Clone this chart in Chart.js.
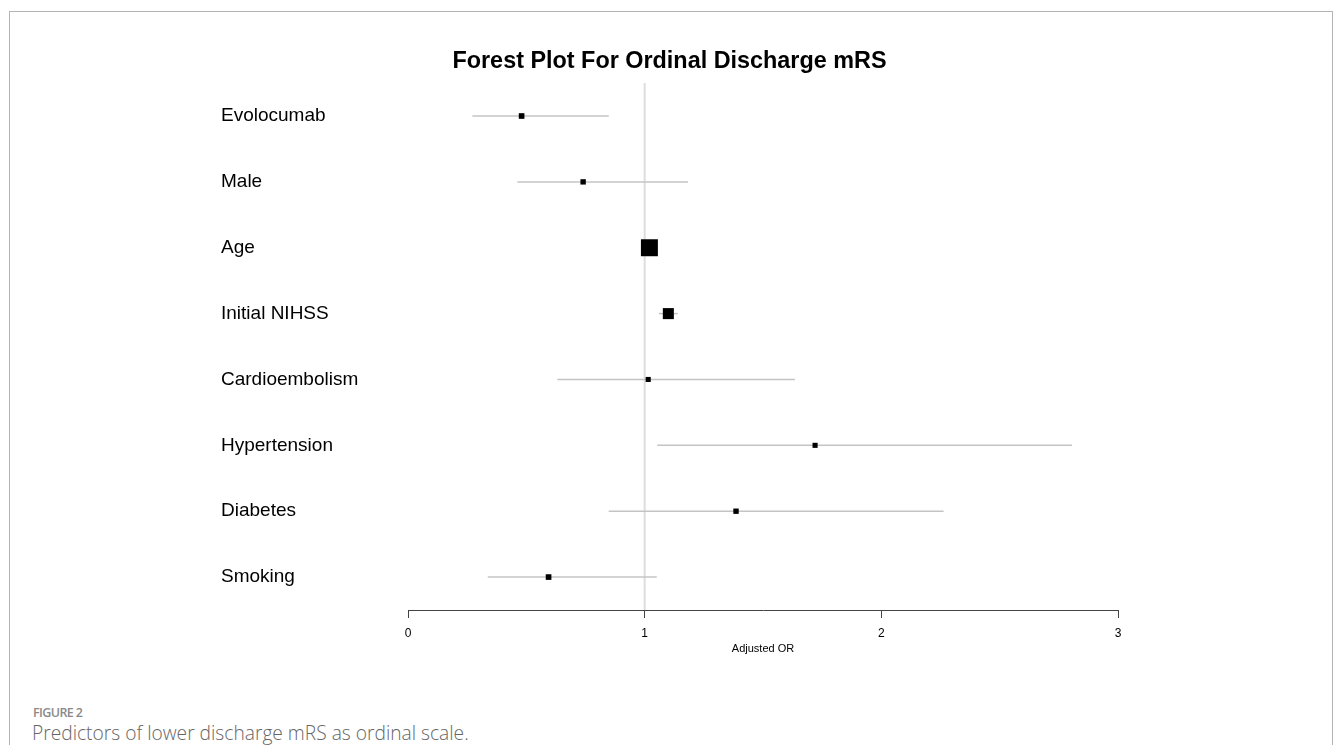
<!DOCTYPE html>
<html>
<head>
<meta charset="utf-8">
<script src="https://cdn.jsdelivr.net/npm/chart.js@4.4.1/dist/chart.umd.min.js"></script>
<style>
  html, body { margin: 0; padding: 0; background: #fff; }
  body { width: 1335px; height: 745px; position: relative; overflow: hidden; }
  #frame { position: absolute; left: 9px; top: 11px; width: 1322px; height: 760px;
           border: 1px solid #b4b4b4; border-bottom: none; }
  #wrap { position: absolute; left: 0; top: 0; width: 1335px; height: 700px; }
  .figno { position: absolute; left: 33px; top: 704px; font: 600 12.5px "Open Sans", sans-serif; color: #8a8a8a; letter-spacing: -0.6px; }
  .caption { position: absolute; left: 32px; top: 719px; font: 300 19.2px "Open Sans", sans-serif; color: #666; }
</style>
</head>
<body>
<div id="frame"></div>
<div id="wrap"><canvas id="forestChart"></canvas></div>
<div class="figno">FIGURE 2</div>
<div class="caption">Predictors of lower discharge mRS as ordinal scale.</div>
<script>
// rows, top to bottom
const labels = ['Evolocumab', 'Male', 'Age', 'Initial NIHSS', 'Cardioembolism', 'Hypertension', 'Diabetes', 'Smoking'];
const oddsRatio = [0.48, 0.74, 1.02, 1.10, 1.015, 1.72, 1.386, 0.594];
const lowerCI = [0.272, 0.462, 1.00, 1.06, 0.631, 1.053, 0.848, 0.337];
const upperCI = [0.848, 1.183, 1.04, 1.14, 1.635, 2.806, 2.263, 1.051];
const xTicks = [0, 1, 2, 3];

// CI whiskers and the line of no effect, drawn under the boxes
const ciPlugin = {
    id: 'ciLines',
    beforeDatasetsDraw(chart) {
        const { ctx, chartArea, scales: { x, y } } = chart;
        ctx.save();
        const x1 = x.getPixelForValue(1);
        ctx.strokeStyle = '#dddddd';
        ctx.lineWidth = 2;
        ctx.beginPath();
        ctx.moveTo(x1, chartArea.top);
        ctx.lineTo(x1, chartArea.bottom);
        ctx.stroke();

        ctx.strokeStyle = '#c4c4c4';
        ctx.lineWidth = 1.5;
        labels.forEach((_, i) => {
            const py = y.getPixelForValue(i + 1);
            ctx.beginPath();
            ctx.moveTo(x.getPixelForValue(lowerCI[i]), py);
            ctx.lineTo(x.getPixelForValue(upperCI[i]), py);
            ctx.stroke();
        });
        ctx.restore();
    }
};

const chart = new Chart(document.getElementById('forestChart'), {
    type: 'scatter',
    data: {
        datasets: [{
            label: 'Adjusted OR',
            data: oddsRatio.map((v, i) => ({ x: v, y: i + 1 })),
            pointStyle: 'rect',
            pointRadius: [4, 3.8, 12, 7.8, 3.6, 3.6, 3.8, 4],
            pointHoverRadius: [4, 3.8, 12, 7.8, 3.6, 3.6, 3.8, 4],
            pointBorderWidth: 0,
            backgroundColor: '#000'
        }]
    },
    options: {
        responsive: true,
        maintainAspectRatio: false,
        animation: false,
        layout: { padding: { left: 221, right: 217, top: 0, bottom: 44 } },
        plugins: {
            legend: { display: false },
            tooltip: { enabled: false },
            title: {
                display: true,
                text: 'Forest Plot For Ordinal Discharge mRS',
                color: '#000',
                font: { family: '"Liberation Sans", Arial, sans-serif', size: 23.4, weight: 'bold' },
                padding: { top: 47.5, bottom: 7.5 }
            }
        },
        scales: {
            x: {
                type: 'linear',
                min: 0,
                max: 3,
                afterBuildTicks: s => { s.ticks = xTicks.map(v => ({ value: v })); },
                afterFit: s => { s.height = 46; },
                grid: { drawOnChartArea: false, drawTicks: true, tickLength: 8, color: '#444', lineWidth: 1 },
                border: { display: true, color: '#444', width: 1 },
                ticks: {
                    color: '#000',
                    padding: 8,
                    font: { family: '"Liberation Sans", Arial, sans-serif', size: 12 }
                },
                title: {
                    display: true,
                    text: 'Adjusted OR',
                    color: '#000',
                    font: { family: '"Liberation Sans", Arial, sans-serif', size: 11 },
                    padding: { top: 2, bottom: 0 }
                }
            },
            y: {
                type: 'linear',
                min: 0.5,
                max: 8.5,
                reverse: true,
                afterBuildTicks: s => { s.ticks = labels.map((_, i) => ({ value: i + 1 })); },
                afterFit: s => { s.width = 187; },
                grid: { display: false },
                border: { display: false },
                ticks: {
                    color: '#000',
                    crossAlign: 'far',
                    callback: v => labels[v - 1],
                    font: { family: '"Liberation Sans", Arial, sans-serif', size: 19 }
                }
            }
        }
    },
    plugins: [ciPlugin]
});
</script>
</body>
</html>
